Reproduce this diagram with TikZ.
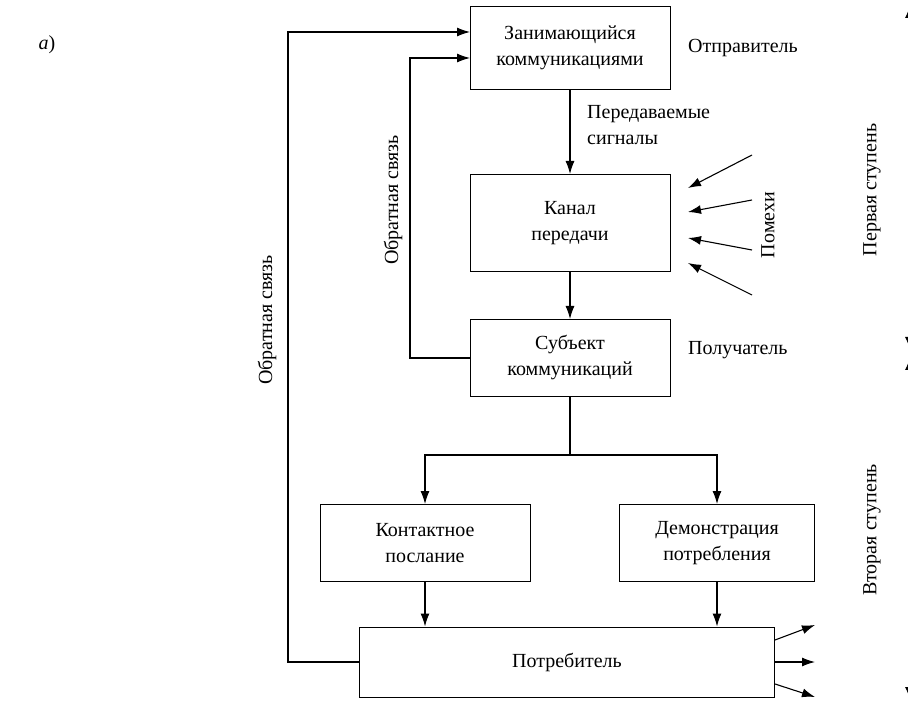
\documentclass[tikz,border=0pt]{standalone}
\usepackage{fontspec}
\setmainfont{Liberation Serif}
\usetikzlibrary{arrows.meta}

\tikzset{
  block/.style={draw, line width=1pt, align=center, inner sep=2pt},
  arr/.style={line width=1.1pt, -{Latex[length=13pt, width=9pt]}},
  conn/.style={line width=1.1pt},
  lbl/.style={align=left, inner sep=0pt},
  side/.style={rotate=90, inner sep=0pt}
}

\begin{document}
\begin{tikzpicture}[x=1pt, y=-1pt, font=\rmfamily\fontsize{20}{26}\selectfont]
    \useasboundingbox (0,0) rectangle (908,708);
    % Label of the part
    \node[inner sep=0pt] (part) at (47,45) {\textit{а})};
    % Main chain
    \node[block, minimum width=200pt, minimum height=83pt] (sender) at (570,48) {Занимающийся\\коммуникациями};
    \node[block, minimum width=200pt, minimum height=97pt] (chan) at (570,223) {Канал\\передачи};
    \node[block, minimum width=200pt, minimum height=77pt] (subj) at (570,358) {Субъект\\коммуникаций};
    \node[lbl, anchor=west] (sendlbl) at (688,48) {Отправитель};
    \node[lbl, anchor=west] (recvlbl) at (688,350) {Получатель};
    \node[lbl, anchor=north west] (siglbl) at (587,105) {Передаваемые\\сигналы};
    \draw[arr] (sender.south) -- (chan.north);
    \draw[arr] (chan.south) -- (subj.north);
    % Second stage
    \coordinate (split) at (570,455);
    \node[block, minimum width=210pt, minimum height=77pt] (cont) at (425,543) {Контактное\\послание};
    \node[block, minimum width=195pt, minimum height=77pt] (demo) at (717,543) {Демонстрация\\потребления};
    \node[block, minimum width=415pt, minimum height=70pt] (cons) at (567,662) {Потребитель};
    \draw[conn] (subj.south) -- (split);
    \draw[arr] (split) -| (cont.north);
    \draw[arr] (split) -| (demo.north);
    \draw[arr] (cont.south) -- (cont.south |- cons.north);
    \draw[arr] (demo.south) -- (demo.south |- cons.north);
    % Feedback
    \coordinate (in1) at (470,58);
    \coordinate (in2) at (470,32);
    \coordinate (fbA) at (410,200);
    \coordinate (fbB) at (288,320);
    \draw[arr] (subj.west) -| (fbA) |- (in1);
    \draw[arr] (cons.west) -| (fbB) |- (in2);
    \node[side] (fblblA) at (393,200) {Обратная связь};
    \node[side] (fblblB) at (267,320) {Обратная связь};
    % Noise
    \foreach \i/\xa/\ya/\yb in {1/752/155/188, 2/752/200/212, 3/752/250/238, 4/752/295/263} {
      \coordinate (ns\i) at (\xa,\ya);
      \coordinate (nt\i) at (688,\yb);
      \draw[arr] (ns\i) -- (nt\i);
    }
    \node[side] (noiselbl) at (768,225) {Помехи};
    % Outputs of the consumer
    \coordinate (out1) at (815,625);
    \coordinate (out2) at (815,662);
    \coordinate (out3) at (815,697);
    \draw[arr] ([yshift=22pt]cons.east) -- (out1);
    \draw[arr] (cons.east) -- (out2);
    \draw[arr] ([yshift=-22pt]cons.east) -- (out3);
    % Stages
    \coordinate (st1) at (910,5);
    \coordinate (st2) at (910,350);
    \coordinate (st3) at (910,357);
    \coordinate (st4) at (910,700);
    \draw[arr, {Latex[length=13pt, width=10pt]}-{Latex[length=13pt, width=10pt]}] (st1) -- (st2);
    \draw[arr, {Latex[length=13pt, width=10pt]}-{Latex[length=13pt, width=10pt]}] (st3) -- (st4);
    \node[side] (stage1) at (872,190) {Первая ступень};
    \node[side] (stage2) at (872,530) {Вторая ступень};
\end{tikzpicture}
\end{document}
